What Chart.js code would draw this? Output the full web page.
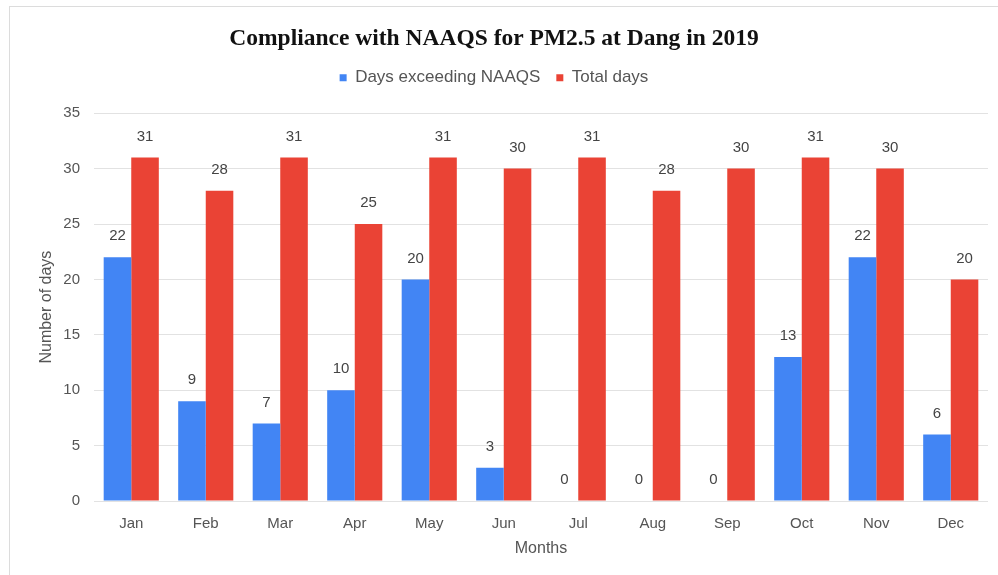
<!DOCTYPE html>
<html>
<head>
<meta charset="utf-8">
<script src="https://cdn.jsdelivr.net/npm/chart.js@4"></script>
<style>
  html, body { margin: 0; padding: 0; background: #fff; }
  #frame { position: absolute; left: 9px; top: 6px; width: 995px; height: 575px; border: 1px solid #dcdcdc; box-sizing: border-box; }
  #wrap { position: absolute; left: 0; top: 0; width: 998px; height: 575px; }
</style>
</head>
<body>
<div id="frame"></div>
<div id="wrap"><canvas id="chart"></canvas></div>
<script>
const months = ["Jan","Feb","Mar","Apr","May","Jun","Jul","Aug","Sep","Oct","Nov","Dec"];
const exceedDays = [22, 9, 7, 10, 20, 3, 0, 0, 0, 13, 22, 6];
const totalDays = [31, 28, 31, 25, 31, 30, 31, 28, 30, 31, 30, 20];
const yTicks = [0, 5, 10, 15, 20, 25, 30, 35];

const sans = "'Liberation Sans', Arial, sans-serif";

// draws the value above every bar, from the bar elements' own positions
const valueLabels = {
  id: "valueLabels",
  afterDatasetsDraw(chart) {
    const ctx = chart.ctx;
    ctx.save();
    ctx.font = "15px " + sans;
    ctx.fillStyle = "#444";
    ctx.textAlign = "center";
    ctx.textBaseline = "middle";
    chart.data.datasets.forEach((ds, i) => {
      chart.getDatasetMeta(i).data.forEach((bar, j) => {
        ctx.fillText(String(ds.data[j]), bar.x, bar.y - 21);
      });
    });
    ctx.restore();
  }
};

// gives the legend a fixed height so the plot starts where it should
const legendHeight = {
  id: "legendHeight",
  beforeLayout(chart) {
    const lg = chart.legend;
    if (!lg || lg._patched) return;
    const fit = lg.fit;
    lg.fit = function() { fit.call(this); this.height = 60; };
    lg._patched = true;
  }
};

new Chart(document.getElementById("chart"), {
  type: "bar",
  data: {
    labels: months,
    datasets: [
      { label: "Days exceeding NAAQS", data: exceedDays, backgroundColor: "#4285f4" },
      { label: "Total days", data: totalDays, backgroundColor: "#ea4335" }
    ]
  },
  options: {
    responsive: true,
    maintainAspectRatio: false,
    animation: false,
    layout: { padding: { left: 0, right: 10, top: 0, bottom: 0 } },
    datasets: { bar: { categoryPercentage: 0.74, barPercentage: 1.0 } },
    plugins: {
      title: {
        display: true,
        text: "Compliance with NAAQS for PM2.5 at Dang in 2019",
        color: "#111",
        font: { family: "'Liberation Serif', 'DejaVu Serif', serif", size: 23.5, weight: "bold" },
        padding: { top: 25, bottom: 0 }
      },
      legend: {
        position: "top",
        labels: {
          usePointStyle: true,
          pointStyle: "rect",
          boxWidth: 7,
          boxHeight: 7,
          padding: 16,
          color: "#555",
          font: { family: sans, size: 17 }
        }
      },
      tooltip: { enabled: false }
    },
    scales: {
      x: {
        afterFit(scale) { scale.height = 74; },
        grid: { display: false },
        border: { display: false },
        ticks: { color: "#555", padding: 6, font: { family: sans, size: 15 } },
        title: { display: true, text: "Months", color: "#555", padding: { top: 0, bottom: 17 }, font: { family: sans, size: 16 } }
      },
      y: {
        min: 0,
        max: 35,
        afterBuildTicks(scale) { scale.ticks = yTicks.map(v => ({ value: v })); },
        afterFit(scale) { scale.width = 94; },
        grid: { color: "#e2e2e2", drawTicks: false },
        border: { display: false },
        ticks: { color: "#555", padding: 14, font: { family: sans, size: 15 } },
        title: { display: true, text: "Number of days", color: "#555", padding: { top: 37, bottom: 0 }, font: { family: sans, size: 16 } }
      }
    }
  },
  plugins: [valueLabels, legendHeight]
});
</script>
</body>
</html>
